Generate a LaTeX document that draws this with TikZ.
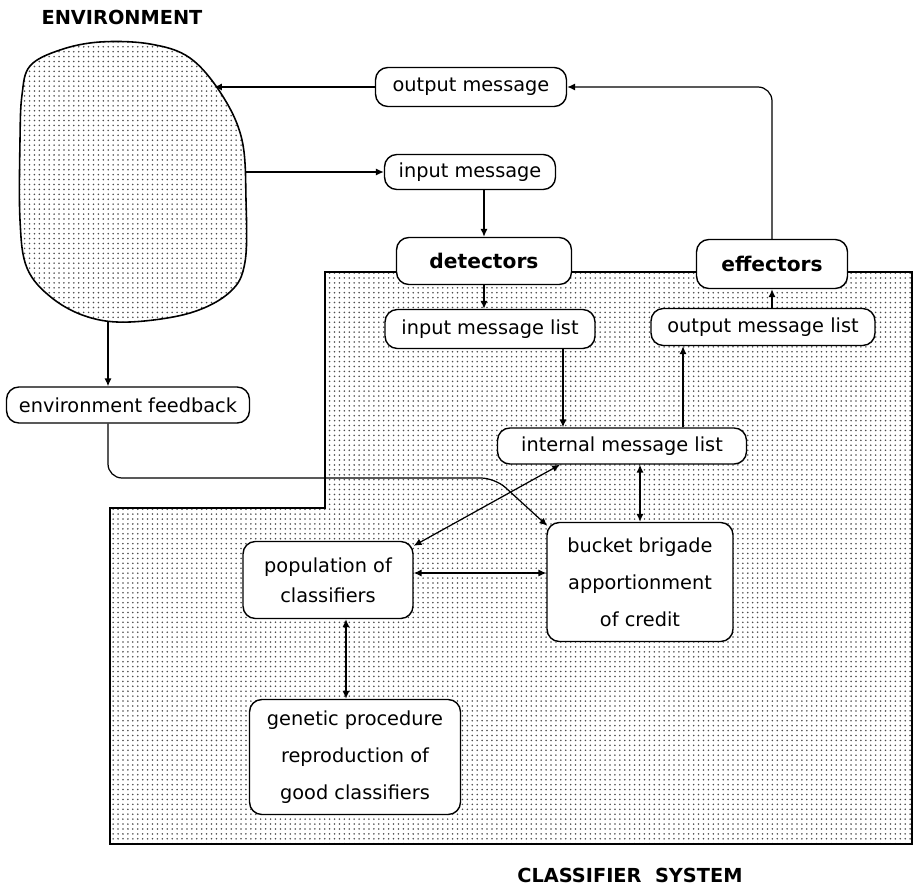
\documentclass[tikz,border=0pt]{standalone}
\usepackage{fontspec}
\setmainfont{DejaVu Sans}
\usetikzlibrary{patterns.meta,arrows.meta}
\begin{document}
\begin{tikzpicture}[x=0.02cm,y=-0.02cm,
  box/.style={draw,line width=0.8pt,fill=white,rounded corners=7pt,inner sep=0pt,align=center,font=\fontsize{11}{13}\selectfont},
  bbox/.style={box,font=\fontsize{11.5}{13}\selectfont\bfseries},
  arr/.style={line width=0.7pt,-{Latex[length=4.5pt,width=4pt]}},
  darr/.style={line width=0.7pt,{Latex[length=4.5pt,width=4pt]}-{Latex[length=4.5pt,width=4pt]}},
  dotfill/.style={pattern={Dots[radius=0.5pt,distance=2.8pt]},pattern color=black!70},
  titletext/.style={font=\fontsize{11}{13}\selectfont\bfseries}]
\useasboundingbox (0,0) rectangle (915,888);

% classifier system region
\draw[dotfill,line width=0.8pt] (325,272) -- (912,272) -- (912,844) -- (110,844) -- (110,508) -- (325,508) -- cycle;

% environment blob
\draw[dotfill,line width=0.9pt] plot[smooth cycle,tension=0.6] coordinates {
  (30,66) (60,50) (100,42) (150,44) (190,58) (222,95) (242,140) (246,200)
  (245,262) (230,292) (190,313) (130,322) (88,317) (52,298) (27,268)
  (20,220) (20,140) (22,95)};
\coordinate (envA) at (214,87);
\coordinate (envB) at (246,172);
\coordinate (envC) at (108,321);

% titles
\node[titletext] (envtitle) at (122,17) {ENVIRONMENT};
\node[titletext] (systitle) at (630,875) {CLASSIFIER\hspace{0.7em}SYSTEM};

% nodes
\node[box,minimum width=3.82cm,minimum height=0.78cm] (outmsg) at (471,87) {output message};
\node[box,minimum width=3.42cm,minimum height=0.70cm] (inmsg) at (470,172) {input message};
\node[bbox,minimum width=3.50cm,minimum height=0.94cm] (detectors) at (484,261) {detectors};
\node[bbox,minimum width=3.02cm,minimum height=0.98cm] (effectors) at (772,264) {effectors};
\node[box,minimum width=4.20cm,minimum height=0.78cm] (inlist) at (490,329) {input message list};
\node[box,minimum width=4.48cm,minimum height=0.74cm] (outlist) at (763,327) {output message list};
\node[box,minimum width=4.98cm,minimum height=0.72cm] (intlist) at (622,446) {internal message list};
\node[box,minimum width=4.86cm,minimum height=0.72cm] (feedback) at (128,405) {environment feedback};
\node[box,minimum width=3.72cm,minimum height=2.38cm,font=\fontsize{11}{21}\selectfont] (bucket) at (640,582) {bucket brigade\\apportionment\\of credit};
\node[box,minimum width=3.40cm,minimum height=1.54cm,font=\fontsize{11}{17}\selectfont] (pop) at (328,580) {population of\\classifiers};
\node[box,minimum width=4.22cm,minimum height=2.30cm,font=\fontsize{11}{21}\selectfont] (genetic) at (355,757) {genetic procedure\\reproduction of\\good classifiers};

\coordinate (fbturn) at (495,478);

% connectors
\draw[arr,rounded corners=8pt] (effectors.north) |- (outmsg.east);
\draw[arr] (outmsg.west) -- (envA);
\draw[arr] (envB) -- (inmsg.west);
\draw[arr] (detectors.north |- inmsg.south) -- (detectors.north);
\draw[arr] (detectors.south) -- (detectors.south |- inlist.north);
\draw[arr] ([xshift=1.46cm]inlist.south) -- ([xshift=1.46cm]inlist.south |- intlist.north);
\draw[arr] ([xshift=-1.6cm]outlist.south |- intlist.north) -- ([xshift=-1.6cm]outlist.south);
\draw[arr] (effectors.south |- outlist.north) -- (effectors.south);
\draw[darr] (bucket.north |- intlist.south) -- (bucket.north);
\draw[darr] ([xshift=-1.24cm]intlist.south) -- ([yshift=-0.1cm]pop.north east);
\draw[darr] ([yshift=0.14cm]pop.east) -- ([yshift=0.14cm]pop.east -| bucket.west);
\draw[darr] ([xshift=0.36cm]pop.south) -- ([xshift=0.36cm]pop.south |- genetic.north);
\draw[arr] (envC) -- (envC |- feedback.north);
\draw[arr,rounded corners=8pt] ([xshift=-0.4cm]feedback.south) -- ([xshift=-0.4cm]feedback.south |- fbturn) -- (fbturn) -- ([xshift=0.02cm,yshift=-0.08cm]bucket.north west);
\end{tikzpicture}
\end{document}
